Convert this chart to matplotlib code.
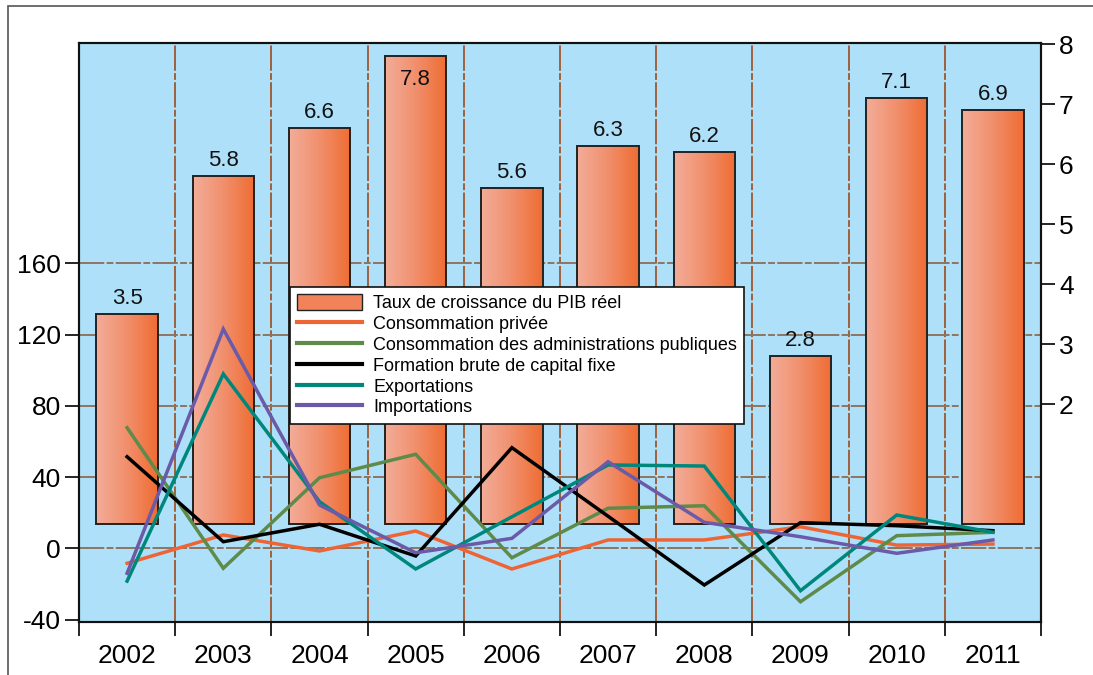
import matplotlib
matplotlib.use("Agg")
import matplotlib.pyplot as plt
import numpy as np
from matplotlib.patches import Rectangle, Patch
from matplotlib.lines import Line2D
from matplotlib.colors import LinearSegmentedColormap
from matplotlib.transforms import blended_transform_factory

plt.rcParams['font.family'] = ['Liberation Sans', 'DejaVu Sans']

years = ['2002', '2003', '2004', '2005', '2006', '2007', '2008', '2009', '2010', '2011']
pib = [3.5, 5.8, 6.6, 7.8, 5.6, 6.3, 6.2, 2.8, 7.1, 6.9]
conso_privee = [-8.4, 7.5, -1.5, 9.7, -11.6, 4.7, 4.7, 12.1, 1.8, 2.4]
conso_adm = [67.7, -11.2, 39.6, 52.8, -5.3, 22.5, 23.9, -30.0, 7.1, 9.0]
fbcf = [51.4, 3.7, 13.5, -4.3, 56.5, 18.0, -20.6, 14.4, 12.7, 9.9]
exportations = [-18.4, 97.9, 26.2, -11.6, 17.7, 46.8, 46.2, -23.8, 18.7, 9.0]
importations = [-14.0, 123.1, 24.3, -2.5, 5.6, 48.6, 14.6, 6.5, -2.8, 4.7]

left_ticks = [-40, 0, 40, 80, 120, 160]
right_ticks = [2, 3, 4, 5, 6, 7, 8]

labels = ['Taux de croissance du PIB réel', 'Consommation privée',
          'Consommation des administrations publiques',
          'Formation brute de capital fixe', 'Exportations', 'Importations']
line_colors = ['#EE6535', '#5E8A4A', '#000000', '#00877C', '#6A5AA8']

fig = plt.figure(figsize=(10.93, 6.75), dpi=100)
fig.patch.set_facecolor('white')

# outer frame (left and top edges visible)
fig.patches.append(Rectangle((8 / 1093, -0.2), 1.2, 1.2 - 6 / 675,
                             transform=fig.transFigure, fill=False,
                             edgecolor='#555555', lw=1.2, clip_on=False))

pos = [79 / 1093, 1 - 621.7 / 675, (1041 - 79) / 1093, (621.7 - 43) / 675]
ax2 = fig.add_axes(pos)          # bars, right scale
ax = ax2.twinx()                 # lines, left scale
ax.set_position(pos)
ax2.set_position(pos)

x = np.arange(len(years))
r_ylim = (-1.623, 8.02)
ax2.set_xlim(-0.5, len(years) - 0.5)
ax2.set_ylim(*r_ylim)
ax.set_ylim(-41.2, 283.7)
ax2.set_facecolor('#AEE1F9')
ax.patch.set_visible(False)

# vertical grid lines at category boundaries
for b in np.arange(0.5, len(years) - 0.5, 1.0):
    ax2.axvline(b, color='#A0603A', lw=1.4, ls=(0, (13, 1.2, 3.5, 1.2)), zorder=0.5)
# horizontal grid lines at left-scale ticks
tr = blended_transform_factory(ax2.transAxes, ax.transData)
for v in left_ticks[1:]:
    ax2.plot([0, 1], [v, v], transform=tr, color='#8E7560', lw=1.4,
             ls=(0, (13, 1.2, 3.5, 1.2)), zorder=0.5)

# bars with gradient fill
cmap = LinearSegmentedColormap.from_list('bar', ['#F3AD9A', '#F18F6C', '#EF6C32'])
grad = np.linspace(0, 1, 256).reshape(1, -1)
width = 0.64
bars = ax2.bar(x, pib, width=width, bottom=0, color='none', edgecolor='#222222',
               lw=1.4, zorder=3)
for rect, val in zip(bars, pib):
    x0 = rect.get_x()
    im = ax2.imshow(grad, cmap=cmap, aspect='auto',
                    extent=[x0, x0 + rect.get_width(), 0, rect.get_height()],
                    zorder=2, interpolation='bilinear')
    im.set_clip_path(rect)
    inside = val > r_ylim[1] - 0.45
    ax2.annotate(f'{val:.1f}', (rect.get_x() + rect.get_width() / 2, rect.get_height()),
                 xytext=(0, -9 if inside else 3.5), textcoords='offset points',
                 ha='center', va='top' if inside else 'bottom',
                 fontsize=16, color='#111111', zorder=4)
ax2.set_xlim(-0.5, len(years) - 0.5)
ax2.set_ylim(*r_ylim)

# lines
series = [conso_privee, conso_adm, fbcf, exportations, importations]
for s, c in zip(series, line_colors):
    ax.plot(x, s, color=c, lw=2.5, solid_joinstyle='miter', zorder=3)

# axes ticks
ax.yaxis.tick_left()
ax.yaxis.set_label_position('left')
ax2.yaxis.tick_right()
ax.set_yticks(left_ticks)
ax.set_yticklabels([str(t) for t in left_ticks])
ax2.set_yticks(right_ticks)
ax2.set_yticklabels([str(t) for t in right_ticks])
ax.tick_params(axis='y', which='both', left=True, right=False, labelleft=True,
               labelright=False, length=10, width=1.2, labelsize=19, direction='out', pad=3)
ax2.tick_params(axis='y', which='both', right=True, left=False, labelright=True,
                labelleft=False, length=10, width=1.2, labelsize=19, direction='out', pad=3)

ax2.set_xticks(np.arange(-0.5, len(years), 1.0))
ax2.set_xticklabels([])
ax2.set_xticks(x, minor=True)
ax2.set_xticklabels(years, minor=True)
ax2.tick_params(axis='x', which='major', length=10, width=1.2, direction='out')
ax2.tick_params(axis='x', which='minor', length=0, labelsize=19, pad=16)
ax.tick_params(axis='x', which='both', bottom=False, top=False, labelbottom=False)

for a in (ax, ax2):
    for sp in a.spines.values():
        sp.set_linewidth(1.5)
        sp.set_color('#111111')

# legend
handles = [Patch(facecolor='#F1825A', edgecolor='#222222', lw=1.0)]
handles += [Line2D([0], [0], color=c, lw=3) for c in line_colors]
leg = ax.legend(handles, labels, loc='upper left',
                bbox_to_anchor=((290 - 79) / 962, (621.7 - 287) / 578.7),
                fontsize=13, frameon=True, fancybox=False, framealpha=1,
                edgecolor='#111111', borderpad=0.4, labelspacing=0.14,
                handlelength=3.6, handleheight=1.0, handletextpad=0.6,
                borderaxespad=0)
leg.get_frame().set_linewidth(1.2)
leg.set_zorder(10)

fig.savefig('out.png', dpi=100)
